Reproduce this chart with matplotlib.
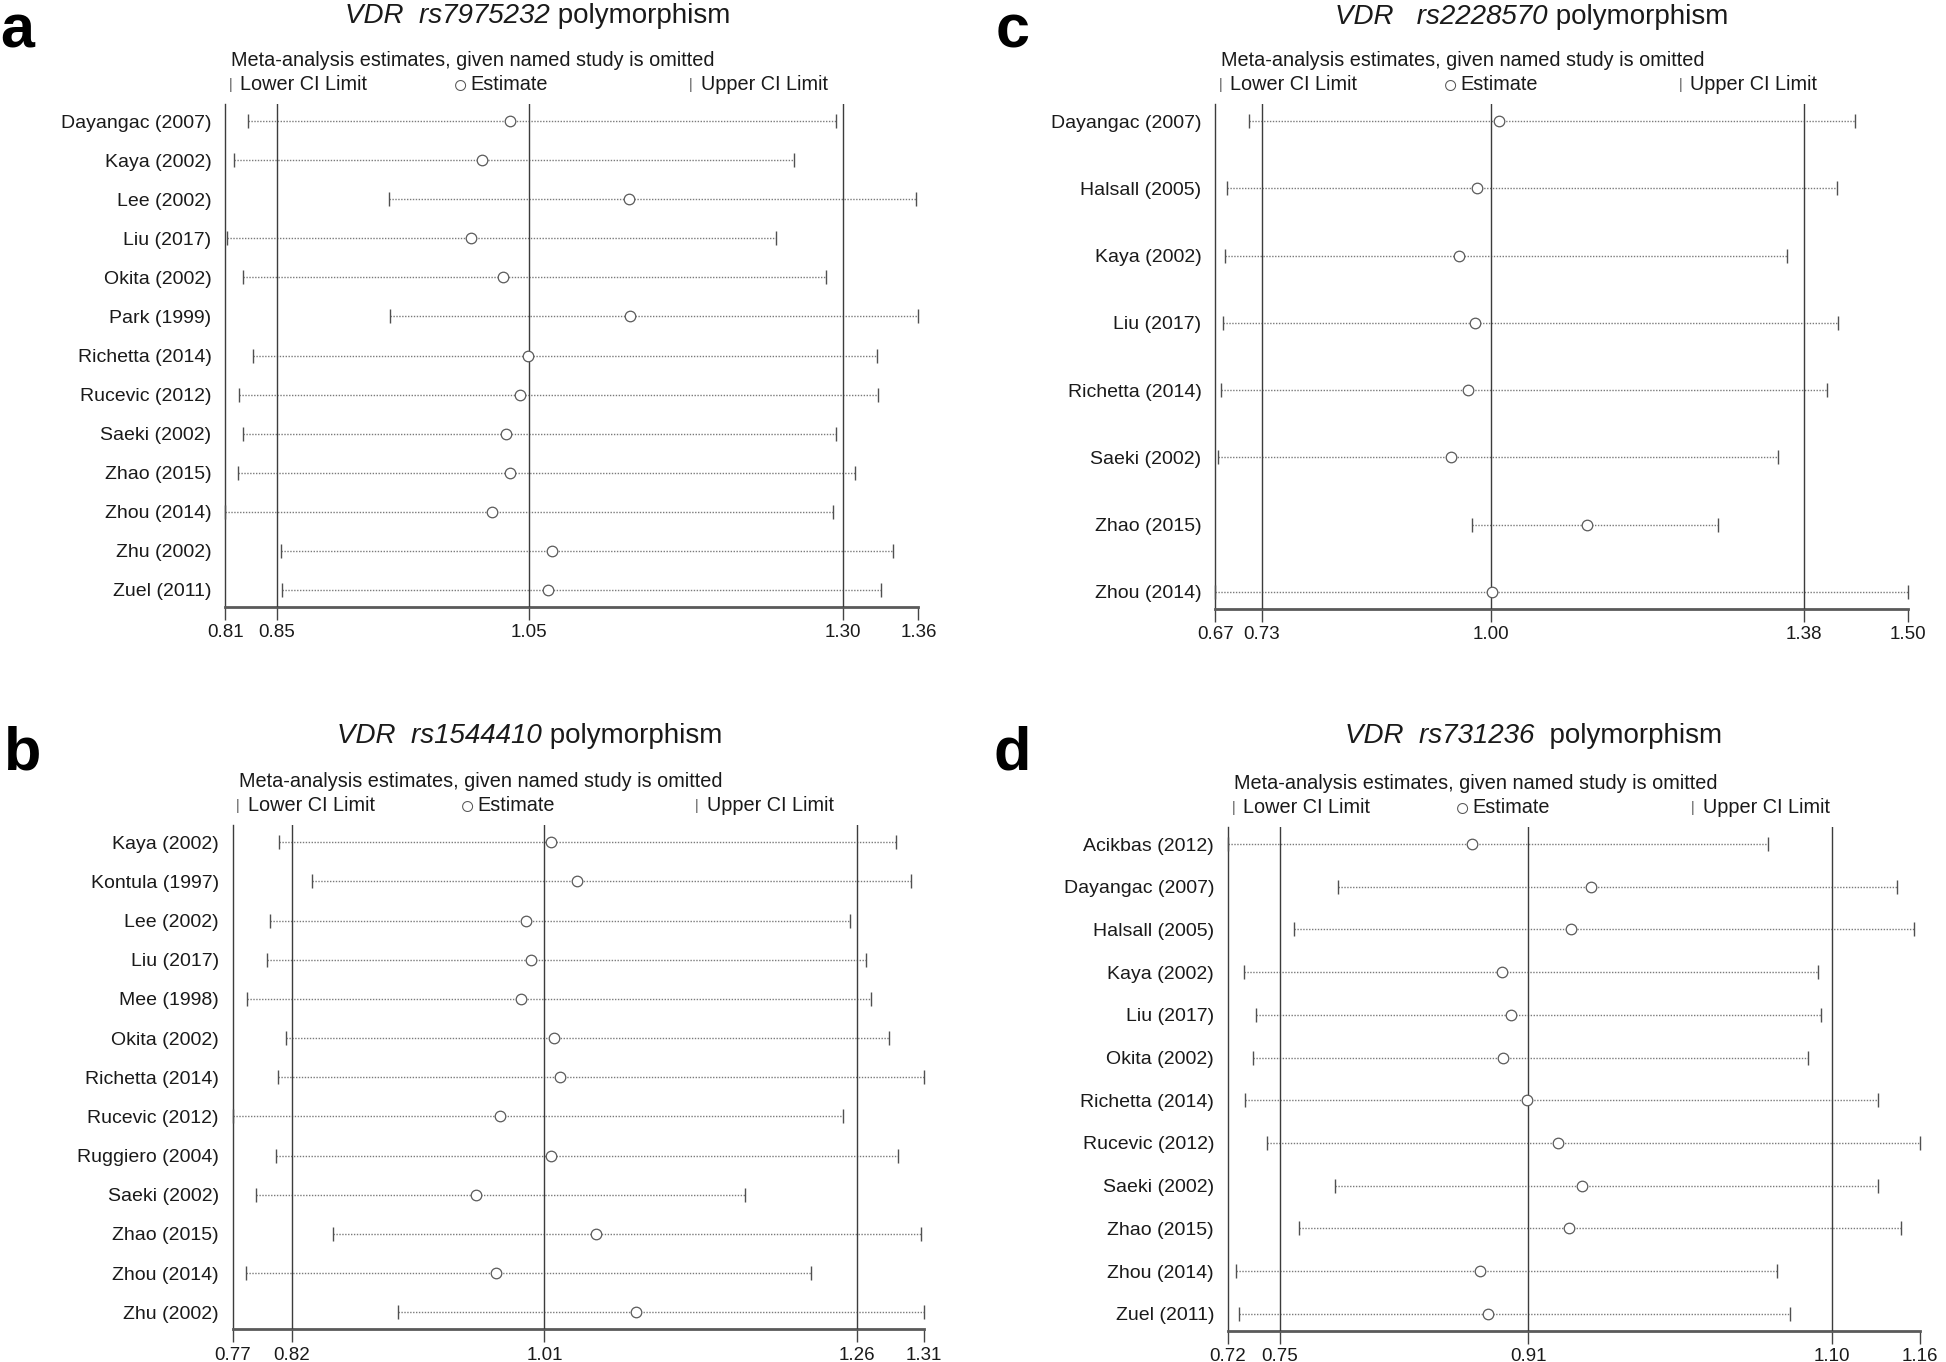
import matplotlib
matplotlib.use("Agg")
import matplotlib.pyplot as plt

plt.rcParams["font.family"] = ["Liberation Sans", "DejaVu Sans"]

# ---- data: leave-one-out estimates (lower CI, estimate, upper CI) ----
studies_a = ["Dayangac (2007)", "Kaya (2002)", "Lee (2002)", "Liu (2017)", "Okita (2002)", "Park (1999)",
             "Richetta (2014)", "Rucevic (2012)", "Saeki (2002)", "Zhao (2015)", "Zhou (2014)",
             "Zhu (2002)", "Zuel (2011)"]
lower_a = [0.828, 0.817, 0.940, 0.811, 0.824, 0.941, 0.832, 0.821, 0.824, 0.820, 0.810, 0.854, 0.855]
est_a = [1.036, 1.014, 1.130, 1.005, 1.030, 1.131, 1.050, 1.044, 1.033, 1.036, 1.022, 1.069, 1.066]
upper_a = [1.295, 1.261, 1.358, 1.247, 1.287, 1.360, 1.327, 1.328, 1.295, 1.310, 1.292, 1.340, 1.330]
overall_a = [0.851, 1.051, 1.300]   # pooled lower CI, estimate, upper CI

studies_b = ["Kaya (2002)", "Kontula (1997)", "Lee (2002)", "Liu (2017)", "Mee (1998)", "Okita (2002)",
             "Richetta (2014)", "Rucevic (2012)", "Ruggiero (2004)", "Saeki (2002)", "Zhao (2015)",
             "Zhou (2014)", "Zhu (2002)"]
lower_b = [0.806, 0.832, 0.799, 0.797, 0.781, 0.812, 0.805, 0.770, 0.804, 0.788, 0.848, 0.780, 0.899]
est_b = [1.019, 1.039, 0.999, 1.003, 0.995, 1.021, 1.026, 0.979, 1.019, 0.960, 1.054, 0.976, 1.085]
upper_b = [1.288, 1.300, 1.252, 1.265, 1.269, 1.283, 1.310, 1.247, 1.290, 1.170, 1.308, 1.222, 1.310]
overall_b = [0.816, 1.0135, 1.258]

studies_c = ["Dayangac (2007)", "Halsall (2005)", "Kaya (2002)", "Liu (2017)", "Richetta (2014)",
             "Saeki (2002)", "Zhao (2015)", "Zhou (2014)"]
lower_c = [0.710, 0.684, 0.682, 0.679, 0.677, 0.673, 0.978, 0.670]
est_c = [1.010, 0.984, 0.962, 0.981, 0.973, 0.952, 1.116, 1.002]
upper_c = [1.437, 1.415, 1.355, 1.416, 1.403, 1.345, 1.273, 1.500]
overall_c = [0.726, 1.000, 1.376]

studies_d = ["Acikbas (2012)", "Dayangac (2007)", "Halsall (2005)", "Kaya (2002)", "Liu (2017)",
             "Okita (2002)", "Richetta (2014)", "Rucevic (2012)", "Saeki (2002)", "Zhao (2015)",
             "Zhou (2014)", "Zuel (2011)"]
lower_d = [0.720, 0.790, 0.762, 0.730, 0.738, 0.736, 0.731, 0.745, 0.788, 0.765, 0.725, 0.727]
est_d = [0.875, 0.951, 0.938, 0.894, 0.900, 0.895, 0.910, 0.930, 0.945, 0.937, 0.880, 0.885]
upper_d = [1.063, 1.145, 1.156, 1.095, 1.097, 1.089, 1.133, 1.160, 1.133, 1.148, 1.069, 1.077]
overall_d = [0.753, 0.911, 1.104]

W, H = 1946, 1362
fig = plt.figure(figsize=(W / 100, H / 100), dpi=100)
fig.patch.set_facecolor("white")

TXT = "#1a1a1a"
FS = 14.3


def draw_panel(box, letter, letter_xy, title_xy, title_it, title_rm, studies, lower, est, upper, overall):
    x0, x1, y0, y1 = box
    ax = fig.add_axes([x0 / W, 1 - y1 / H, (x1 - x0) / W, (y1 - y0) / H])
    n = len(studies)
    rows = list(range(n))
    step = (y1 - y0 - 34) / (n - 1)
    m = 17 / step
    xmin, xmax = min(lower), max(upper)

    ax.hlines(rows, lower, upper, colors="#7a7a7a", linestyles=(0, (1, 1.1)), lw=1, zorder=2)
    for v in overall:
        ax.axvline(v, color="#3c3c3c", lw=1, zorder=3)
    ax.plot(lower, rows, "|", ms=10, mew=1, color="#505050", ls="none", clip_on=False, zorder=4)
    ax.plot(upper, rows, "|", ms=10, mew=1, color="#505050", ls="none", clip_on=False, zorder=4)
    ax.plot(est, rows, "o", ms=7.6, mfc="white", mec="#5a5a5a", mew=0.9, ls="none", clip_on=False, zorder=5)

    ax.set_xlim(xmin, xmax)
    ax.set_ylim(n - 1 + m, -m)
    ticks = [xmin] + overall + [xmax]
    ax.set_xticks(ticks)
    ax.set_xticklabels(["%.2f" % t for t in ticks])
    ax.set_yticks(rows)
    ax.set_yticklabels(studies)
    ax.tick_params(axis="x", direction="out", length=9.5, width=1, color="#444444", pad=3,
                   labelsize=13.5, labelcolor=TXT)
    ax.tick_params(axis="y", length=0, pad=10, labelsize=14, labelcolor=TXT)
    for s in ["top", "right"]:
        ax.spines[s].set_visible(False)
    ax.spines["left"].set_color("#3c3c3c")
    ax.spines["left"].set_linewidth(1)
    ax.spines["bottom"].set_color("#5a5a5a")
    ax.spines["bottom"].set_linewidth(2)

    # legend block above the plot region
    ax.annotate("Meta-analysis estimates, given named study is omitted", xy=(0, 1), xycoords="axes fraction",
                xytext=(6, 38), textcoords="offset pixels", va="baseline", ha="left", fontsize=FS, color=TXT)
    for frac, sym, sz, dy, lab in [(0.0075, "|", 10, 15, "Lower CI Limit"), (0.339, "\u25CB", 18, 11.5, "Estimate"),
                                   (0.6715, "|", 10, 15, "Upper CI Limit")]:
        ax.annotate(sym, xy=(frac, 1), xycoords="axes fraction", xytext=(0, dy), textcoords="offset pixels",
                    va="baseline", ha="center", fontsize=sz, color="#555555")
        ax.annotate(lab, xy=(frac, 1), xycoords="axes fraction", xytext=(10, 14.5), textcoords="offset pixels",
                    va="baseline", ha="left", fontsize=FS, color=TXT)

    t1 = fig.text(title_xy[0] / W, 1 - title_xy[1] / H, title_it, ha="left", va="baseline",
                  fontsize=20, style="italic", color=TXT)
    ax.annotate(title_rm, xy=(1, 0), xycoords=t1, ha="left", va="bottom", fontsize=20, color=TXT,
                annotation_clip=False)
    fig.text(letter_xy[0] / W, 1 - letter_xy[1] / H, letter, ha="left", va="baseline",
             fontsize=44, fontweight="bold", color="black")


draw_panel((225.3, 918.4, 104, 607), "a", (0, 47), (345, 23), "VDR  rs7975232", " polymorphism",
           studies_a, lower_a, est_a, upper_a, overall_a)
draw_panel((232.7, 923.9, 825.3, 1329.3), "b", (4, 770), (337, 743), "VDR  rs1544410", " polymorphism",
           studies_b, lower_b, est_b, upper_b, overall_b)
draw_panel((1215.3, 1907.6, 104, 609), "c", (996, 47), (1335, 24), "VDR   rs2228570", " polymorphism",
           studies_c, lower_c, est_c, upper_c, overall_c)
draw_panel((1227.9, 1920.2, 827, 1330.7), "d", (993, 770), (1345, 743), "VDR  rs731236", "  polymorphism",
           studies_d, lower_d, est_d, upper_d, overall_d)

fig.savefig("out.png", dpi=100)
